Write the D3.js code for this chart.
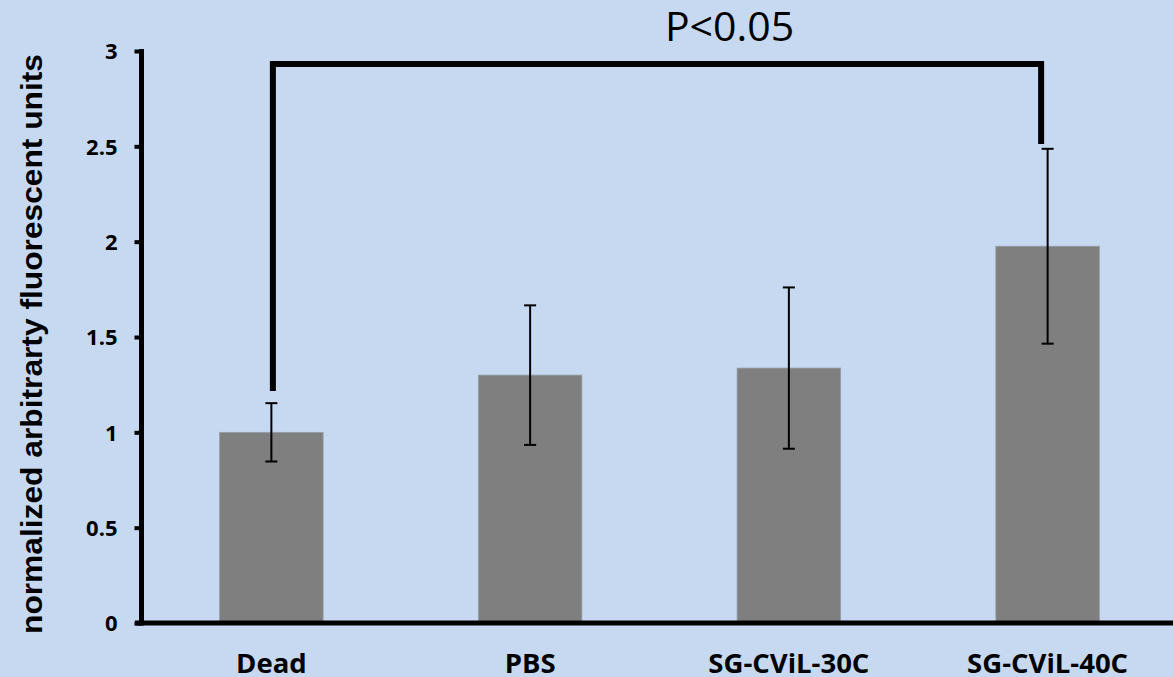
<!DOCTYPE html>
<html>
<head>
<meta charset="utf-8">
<script src="https://cdn.jsdelivr.net/npm/d3@7"></script>
<style>
  html, body { margin: 0; padding: 0; background: #c6d9f0; }
  svg { display: block; }
</style>
</head>
<body>
<svg id="chart" width="1173" height="677"></svg>
<script>
// ---- data ----
const categories = ["Dead", "PBS", "SG-CViL-30C", "SG-CViL-40C"];
const means = [1.0, 1.30, 1.337, 1.976];
const errors = [0.153, 0.366, 0.423, 0.511];
const yTicks = [0, 0.5, 1, 1.5, 2, 2.5, 3];
const yTickLabels = ["0", "0.5", "1", "1.5", "2", "2.5", "3"];
const yLabel = "normalized arbitrarty fluorescent units";
const sigFrom = "Dead", sigTo = "SG-CViL-40C";
const sigFromLevel = 1.217, sigToLevel = 2.512, sigTop = 2.932;
const sigLabel = "P<0.05";

// ---- layout ----
const W = 1173, H = 677;
const svg = d3.select("#chart");
svg.append("rect").attr("width", W).attr("height", H).attr("fill", "#c6d9f0");

const x = d3.scaleBand().domain(categories).range([142, 1177]).padding(0);
const y = d3.scaleLinear().domain([0, 3]).range([623, 51]);
const barFrac = 0.4;
const bw = x.bandwidth() * barFrac;
const cx = c => x(c) + x.bandwidth() / 2;

const data = categories.map((c, i) => ({ c, m: means[i], e: errors[i] }));

// bars
svg.append("g").selectAll("rect").data(data).join("rect")
  .attr("x", d => cx(d.c) - bw / 2)
  .attr("y", d => y(d.m))
  .attr("width", bw)
  .attr("height", d => y(0) - y(d.m))
  .attr("fill", "#7f7f7f")
  .attr("stroke", "#959ca4")
  .attr("stroke-width", 0.8);

// error bars
const eg = svg.append("g").attr("stroke", "#000").attr("stroke-width", 2);
const capW = 12;
data.forEach(d => {
  eg.append("line").attr("x1", cx(d.c)).attr("x2", cx(d.c))
    .attr("y1", y(d.m + d.e)).attr("y2", y(d.m - d.e));
  [d.m + d.e, d.m - d.e].forEach(v => {
    eg.append("line").attr("x1", cx(d.c) - capW / 2).attr("x2", cx(d.c) + capW / 2)
      .attr("y1", y(v)).attr("y2", y(v));
  });
});

// y axis
const yAxis = d3.axisLeft(y).tickValues(yTicks)
  .tickFormat((d, i) => yTickLabels[i]).tickSize(7).tickPadding(17);
const yg = svg.append("g").attr("transform", "translate(141.5,0)").call(yAxis);
yg.select(".domain").remove();
yg.selectAll(".tick line").attr("stroke", "#000").attr("stroke-width", 4);
yg.selectAll(".tick text")
  .attr("font-family", "'Open Sans', sans-serif").attr("font-weight", "bold")
  .attr("font-size", 22).attr("fill", "#000").attr("dy", "0.36em");
svg.append("line").attr("x1", 141.5).attr("x2", 141.5)
  .attr("y1", y(3) - 2).attr("y2", y(0) + 2.5)
  .attr("stroke", "#000").attr("stroke-width", 5);

// x axis
svg.append("line").attr("x1", 135).attr("x2", W)
  .attr("y1", y(0)).attr("y2", y(0))
  .attr("stroke", "#000").attr("stroke-width", 5);
svg.append("g").selectAll("text").data(categories).join("text")
  .attr("x", d => cx(d)).attr("y", 673)
  .attr("text-anchor", "middle")
  .attr("font-family", "'Open Sans', sans-serif").attr("font-weight", "bold")
  .attr("font-size", 27.5).attr("fill", "#000")
  .text(d => d);

// y label
svg.append("text")
  .attr("transform", `translate(42,344) rotate(-90)`)
  .attr("text-anchor", "middle")
  .attr("font-family", "'Liberation Sans', Arial, sans-serif").attr("font-weight", "bold")
  .attr("font-size", 30).attr("fill", "#000")
  .attr("textLength", 580).attr("lengthAdjust", "spacingAndGlyphs")
  .text(yLabel);

// significance bracket
const bx1 = cx(sigFrom) + 1.5, bx2 = cx(sigTo) - 6.5;
svg.append("path")
  .attr("d", `M${bx1},${y(sigFromLevel)} V${y(sigTop)} H${bx2} V${y(sigToLevel)}`)
  .attr("fill", "none").attr("stroke", "#000").attr("stroke-width", 6)
  .attr("stroke-linejoin", "miter").attr("stroke-linecap", "butt");
svg.append("text")
  .attr("x", (cx(sigFrom) + cx(sigTo)) / 2 + 70).attr("y", 41)
  .attr("text-anchor", "middle")
  .attr("font-family", "'Open Sans', sans-serif")
  .attr("font-size", 41).attr("fill", "#000")
  .text(sigLabel);
</script>
</body>
</html>
